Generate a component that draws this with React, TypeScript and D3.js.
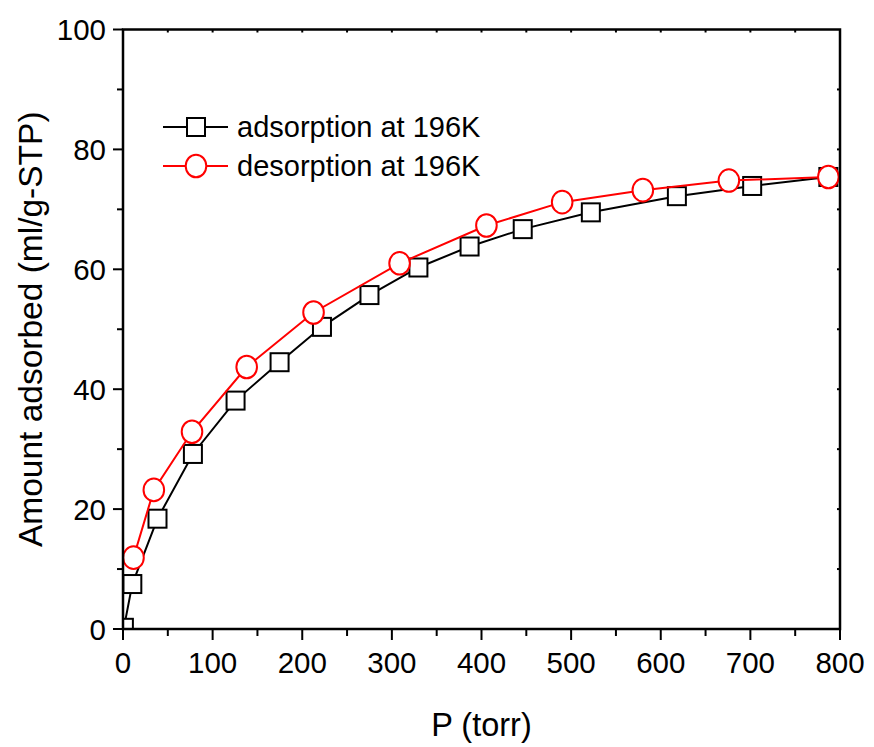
import React from "react";
import * as d3 from "d3";

const adsX = [1, 10.4, 38.5, 78, 125.6, 174.7, 222, 275, 329.6, 386.7, 446, 522, 618, 702, 787];
const adsY = [0.2, 7.5, 18.4, 29.2, 38.1, 44.5, 50.4, 55.7, 60.3, 63.8, 66.7, 69.5, 72.2, 73.9, 75.4];
const desX = [11.7, 34.4, 77, 138, 212.6, 308.6, 405.5, 490, 580, 676, 787];
const desY = [11.9, 23.2, 32.9, 43.7, 52.8, 61, 67.3, 71.2, 73.2, 74.8, 75.4];
const xTicks = [0, 100, 200, 300, 400, 500, 600, 700, 800];
const yTicks = [0, 20, 40, 60, 80, 100];
const legendLabels = ["adsorption at 196K", "desorption at 196K"];

const W = 874, H = 747;
const L = 123, R = 840, T = 29.5, B = 629;
const FONT = "'Liberation Sans', Arial, sans-serif";

export default function App() {
  const x = d3.scaleLinear().domain([0, 800]).range([L, R]);
  const y = d3.scaleLinear().domain([0, 100]).range([B, T]);
  const line = d3.line<[number, number]>().x(d => x(d[0])).y(d => y(d[1]));
  const ads: [number, number][] = adsX.map((v, i) => [v, adsY[i]]);
  const des: [number, number][] = desX.map((v, i) => [v, desY[i]]);
  const xMinor = d3.range(50, 800, 100);
  const yMinor = d3.range(10, 100, 20);
  const topTicks = d3.range(50, 800, 50);
  const rightTicks = d3.range(10, 100, 10);
  const sq = 18;
  return (
    <svg width={W} height={H} style={{ position: "absolute", left: 0, top: 0, background: "#fff" }}>
      <defs>
        <clipPath id="plot">
          <rect x={L} y={T} width={R - L} height={B - T} />
        </clipPath>
      </defs>
      <rect x={0} y={0} width={W} height={H} fill="#fff" />
      <g clipPath="url(#plot)">
        <path d={line(ads) || ""} fill="none" stroke="#000" strokeWidth={2} />
        {ads.map((d, i) => (
          <rect key={i} x={x(d[0]) - sq / 2} y={y(d[1]) - sq / 2} width={sq} height={sq} fill="#fff" stroke="#000" strokeWidth={2} />
        ))}
        <path d={line(des) || ""} fill="none" stroke="#ff0000" strokeWidth={2} />
        {des.map((d, i) => (
          <ellipse key={i} cx={x(d[0])} cy={y(d[1])} rx={10.3} ry={11.3} fill="#fff" stroke="#ff0000" strokeWidth={2} />
        ))}
      </g>
      <rect x={L} y={T} width={R - L} height={B - T} fill="none" stroke="#000" strokeWidth={2.5} />
      {xTicks.map(t => (
        <line key={"xb" + t} x1={x(t)} x2={x(t)} y1={B} y2={B + 11} stroke="#000" strokeWidth={2} />
      ))}
      {xMinor.map(t => (
        <line key={"xm" + t} x1={x(t)} x2={x(t)} y1={B} y2={B + 7} stroke="#000" strokeWidth={2} />
      ))}
      {topTicks.map(t => (
        <line key={"xt" + t} x1={x(t)} x2={x(t)} y1={T} y2={T + 3} stroke="#000" strokeWidth={2} />
      ))}
      {yTicks.map(t => (
        <line key={"yl" + t} x1={L - 10} x2={L} y1={y(t)} y2={y(t)} stroke="#000" strokeWidth={2} />
      ))}
      {yMinor.map(t => (
        <line key={"ym" + t} x1={L - 6} x2={L} y1={y(t)} y2={y(t)} stroke="#000" strokeWidth={2} />
      ))}
      {rightTicks.map(t => (
        <line key={"yr" + t} x1={R - 3} x2={R} y1={y(t)} y2={y(t)} stroke="#000" strokeWidth={2} />
      ))}
      {xTicks.map(t => (
        <text key={"xl" + t} x={x(t)} y={673} textAnchor="middle" fontFamily={FONT} fontSize={29.5} fill="#000">{t}</text>
      ))}
      {yTicks.map(t => (
        <text key={"ylb" + t} x={106} y={y(t) + 10.5} textAnchor="end" fontFamily={FONT} fontSize={29.5} fill="#000">{t}</text>
      ))}
      <text x={(L + R) / 2} y={736} textAnchor="middle" fontFamily={FONT} fontSize={32.5} fill="#000">P (torr)</text>
      <text transform={`translate(42, ${(T + B) / 2}) rotate(-90)`} textAnchor="middle" fontFamily={FONT} fontSize={33.5} fill="#000">Amount adsorbed (ml/g-STP)</text>
      <g>
        <line x1={163} x2={228} y1={127} y2={127} stroke="#000" strokeWidth={2} />
        <rect x={196 - sq / 2} y={127 - sq / 2} width={sq} height={sq} fill="#fff" stroke="#000" strokeWidth={2} />
        <text x={237} y={137} fontFamily={FONT} fontSize={29} fill="#000">{legendLabels[0]}</text>
        <line x1={163} x2={228} y1={166} y2={166} stroke="#ff0000" strokeWidth={2} />
        <ellipse cx={196} cy={166} rx={10.3} ry={11.3} fill="#fff" stroke="#ff0000" strokeWidth={2} />
        <text x={237} y={176} fontFamily={FONT} fontSize={29} fill="#000">{legendLabels[1]}</text>
      </g>
    </svg>
  );
}
